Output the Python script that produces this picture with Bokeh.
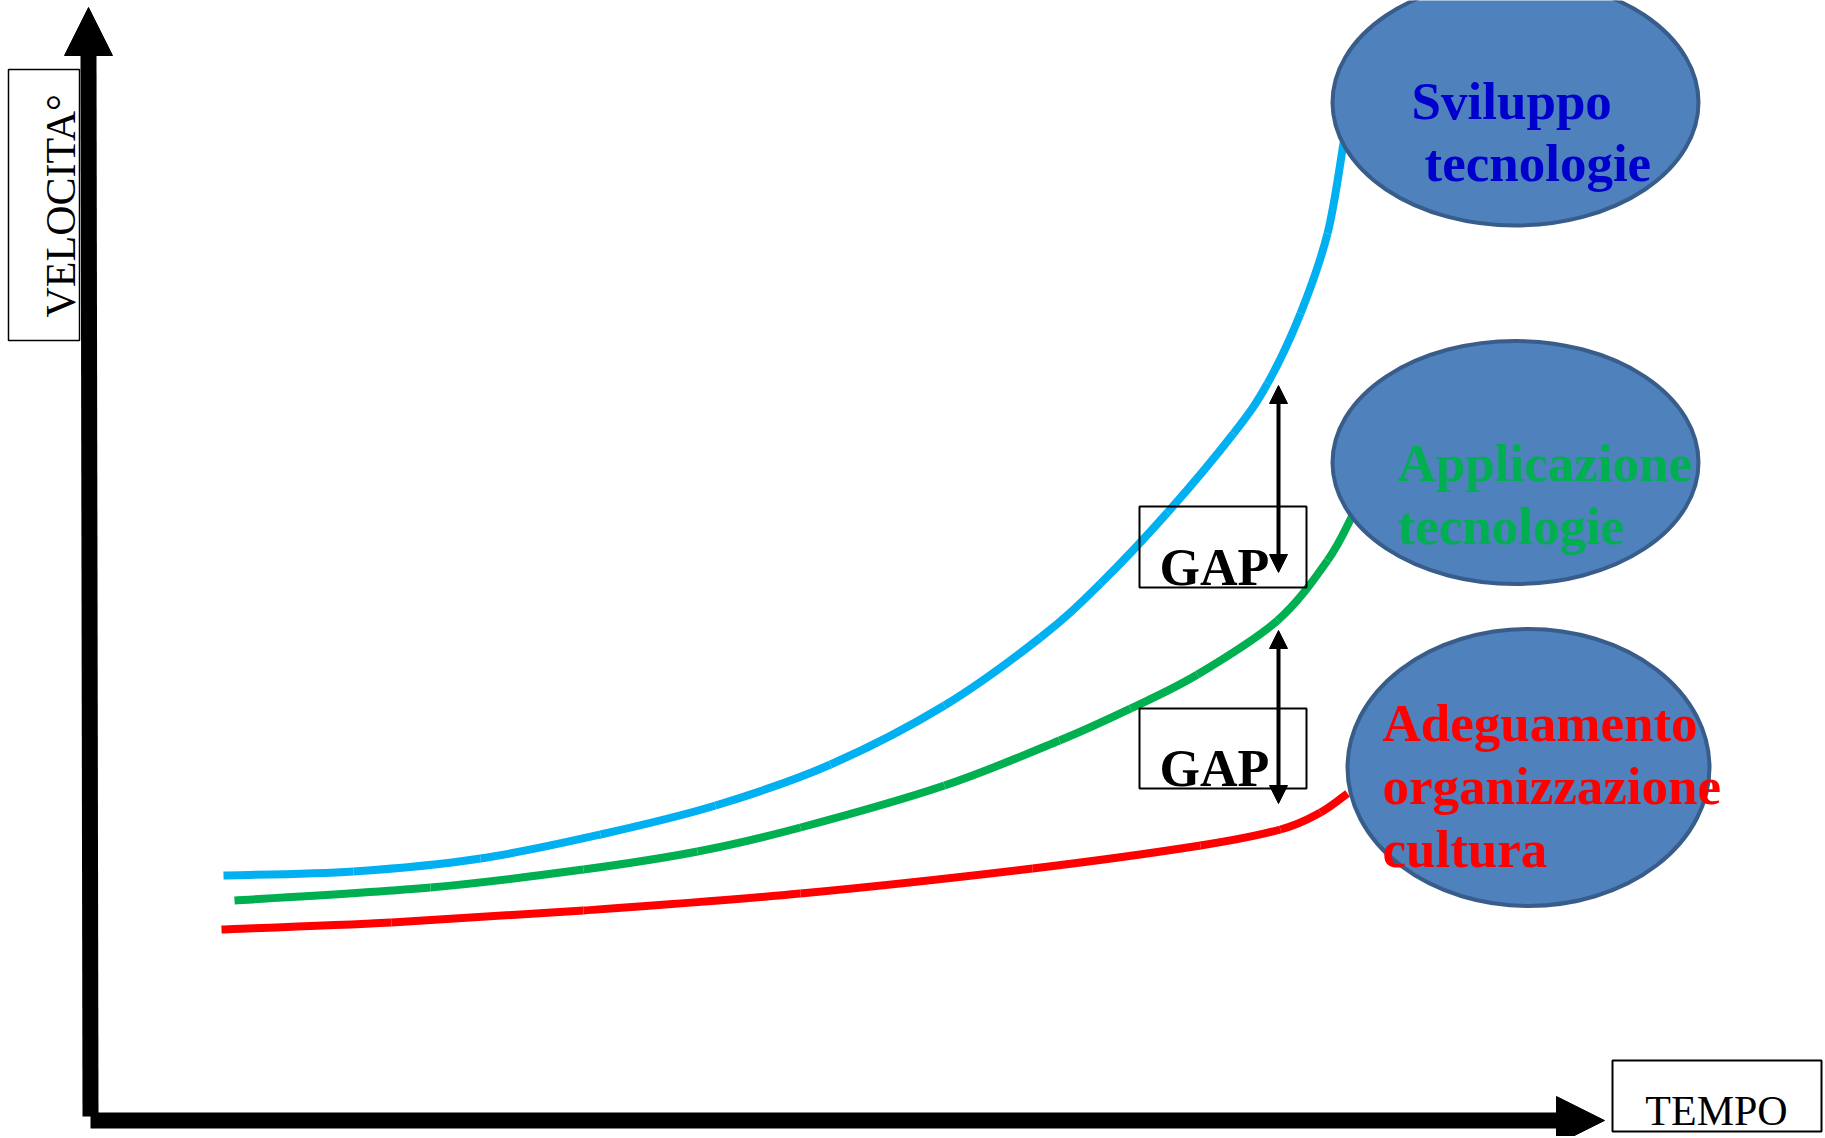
from bokeh.plotting import figure
from bokeh.models import Range1d, Arrow, NormalHead, ColumnDataSource
from bokeh.core.properties import value
from bokeh.embed import file_html
from bokeh.resources import INLINE
import math

# ---------------- data (screen-like coordinates, y grows downward) ----------------
# curves
blue_x = [223, 353, 480, 600, 715, 830, 944, 1040, 1100, 1167, 1233, 1267, 1300, 1327, 1343, 1347]
blue_y = [875, 871, 858, 834, 805, 764, 705, 637, 583, 512, 433, 383, 313, 233, 143, 120]

green_x = [234, 430, 583, 697, 800, 944, 1059, 1130, 1197, 1277, 1327, 1352]
green_y = [900, 887, 869, 851, 827, 785, 740, 708, 674, 620, 560, 515]

red_x = [221, 391, 583, 800, 1032, 1200, 1280, 1320, 1347]
red_y = [929, 922, 910, 893, 868, 845, 829, 812, 793]

# ellipses (bubbles)
ell_x = [1515, 1515, 1528]
ell_y = [102, 462, 767]
ell_w = [366, 366, 362]
ell_h = [246, 243, 277]

# bubble labels
lab_text = ["Sviluppo", "tecnologie", "Applicazione", "tecnologie",
            "Adeguamento", "organizzazione", "cultura"]
lab_x = [1411, 1424, 1397, 1397, 1382, 1382, 1382]
lab_y = [100, 162, 462, 525, 722, 785, 848]
lab_color = ["#0000CC", "#0000CC", "#00B050", "#00B050", "#FF0000", "#FF0000", "#FF0000"]

# GAP boxes
gap_left = [1139, 1139]
gap_right = [1306, 1306]
gap_top = [506, 708]
gap_bottom = [587, 788]
gap_text_x = [1214, 1214]
gap_text_y = [567, 768]
gap_labels = ["GAP", "GAP"]

# GAP double arrows
gap_arrow_x = [1278, 1278]
gap_arrow_top = [385, 630]
gap_arrow_bottom = [572, 803]

# axes (origin, ends)
axis_origin = (90, 1120)
yaxis_top = (88, 7)
xaxis_tip = (1604, 1120)
head_len = 47

# axis label boxes
ylab_box = dict(left=8, right=79, top=69, bottom=340)
xlab_box = dict(left=1612, right=1821, top=1060, bottom=1131)
ylab_text = "VELOCITA°"
xlab_text = "TEMPO"


def smooth_segments(xs, ys):
    """Catmull-Rom control points so the curve passes smoothly through the read points."""
    n = len(xs)
    px = [xs[0]] + list(xs) + [xs[-1]]
    py = [ys[0]] + list(ys) + [ys[-1]]
    x0, y0, x1, y1, cx0, cy0, cx1, cy1 = [], [], [], [], [], [], [], []
    for i in range(1, n):
        a, b, c, d = i - 1, i, i + 1, i + 2
        x0.append(px[b]); y0.append(py[b]); x1.append(px[c]); y1.append(py[c])
        cx0.append(px[b] + (px[c] - px[a]) / 6.0); cy0.append(py[b] + (py[c] - py[a]) / 6.0)
        cx1.append(px[c] - (px[d] - px[b]) / 6.0); cy1.append(py[c] - (py[d] - py[b]) / 6.0)
    return dict(x0=x0, y0=y0, x1=x1, y1=y1, cx0=cx0, cy0=cy0, cx1=cx1, cy1=cy1)


# ---------------- figure ----------------
W, H = 1824, 1136
p = figure(width=W, height=H, x_range=Range1d(0, W), y_range=Range1d(H, 0),
           output_backend="svg", toolbar_location=None, min_border=0)
p.axis.visible = False
p.grid.visible = False
p.outline_line_color = None
p.background_fill_color = "white"
p.border_fill_color = "white"

# curves
for xs, ys, col in [(blue_x, blue_y, "#00B0F0"), (green_x, green_y, "#00B050"), (red_x, red_y, "#FF0000")]:
    p.bezier(source=ColumnDataSource(smooth_segments(xs, ys)), x0="x0", y0="y0", x1="x1", y1="y1",
             cx0="cx0", cy0="cy0", cx1="cx1", cy1="cy1", line_color=col, line_width=8)

# bubbles
p.ellipse(x=ell_x, y=ell_y, width=ell_w, height=ell_h, fill_color="#4F81BD",
          line_color="#385D8A", line_width=4)

# bubble labels
src = ColumnDataSource(dict(x=lab_x, y=lab_y, t=lab_text, c=lab_color))
p.text(x="x", y="y", text="t", text_color="c", source=src,
       text_font=value("Liberation Serif"), text_font_style="bold",
       text_font_size="53px", text_align="left", text_baseline="alphabetic")

# GAP boxes and labels
p.quad(left=gap_left, right=gap_right, top=gap_top, bottom=gap_bottom,
       fill_alpha=0, line_color="black", line_width=2)
p.text(x=gap_text_x, y=gap_text_y, text=gap_labels, text_color="black",
       text_font=value("Liberation Serif"), text_font_style="bold",
       text_font_size="52px", text_align="center", text_baseline="alphabetic")

# GAP double arrows
for gx, gt, gb in zip(gap_arrow_x, gap_arrow_top, gap_arrow_bottom):
    p.add_layout(Arrow(x_start=gx, y_start=gb, x_end=gx, y_end=gt,
                       line_width=4, line_color="black",
                       start=NormalHead(size=18, fill_color="black", line_color="black", line_width=1),
                       end=NormalHead(size=18, fill_color="black", line_color="black", line_width=1)))

# main axes: shafts
ox, oy = axis_origin
p.segment(x0=[ox, ox], y0=[oy, oy - 4], x1=[xaxis_tip[0] - head_len, yaxis_top[0]],
          y1=[xaxis_tip[1], yaxis_top[1] + head_len], line_color="black", line_width=16,
          line_cap="butt")
# heads
p.add_layout(Arrow(x_start=xaxis_tip[0] - head_len - 2, y_start=xaxis_tip[1],
                   x_end=xaxis_tip[0], y_end=xaxis_tip[1], line_alpha=0, start=None,
                   end=NormalHead(size=48, fill_color="black", line_color="black", line_width=1)))
p.add_layout(Arrow(x_start=yaxis_top[0], y_start=yaxis_top[1] + head_len + 2,
                   x_end=yaxis_top[0], y_end=yaxis_top[1], line_alpha=0, start=None,
                   end=NormalHead(size=48, fill_color="black", line_color="black", line_width=1)))

# axis label boxes
p.quad(left=[ylab_box["left"], xlab_box["left"]], right=[ylab_box["right"], xlab_box["right"]],
       top=[ylab_box["top"], xlab_box["top"]], bottom=[ylab_box["bottom"], xlab_box["bottom"]],
       fill_color="white", line_color="black", line_width=[1.5, 2])
p.text(x=[60], y=[317], text=[ylab_text], angle=math.pi / 2, text_color="black",
       text_font=value("Liberation Serif"), text_font_size="42px",
       text_align="left", text_baseline="alphabetic")
p.text(x=[1716], y=[1110], text=[xlab_text], text_color="black",
       text_font=value("Liberation Serif"), text_font_size="42px",
       text_align="center", text_baseline="alphabetic")

open("out.html", "w").write(file_html(p, INLINE))
